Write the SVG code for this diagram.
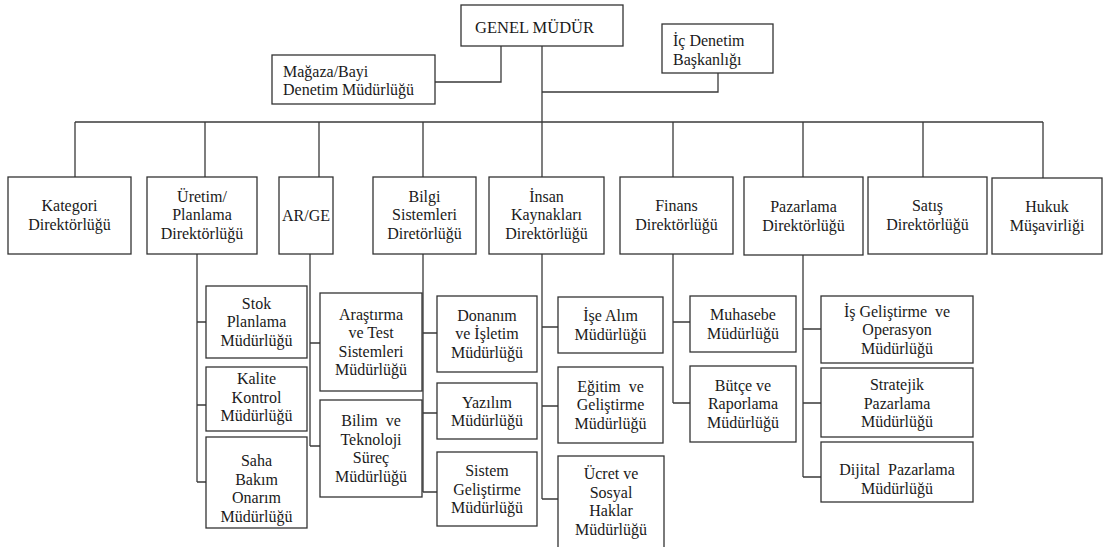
<svg xmlns="http://www.w3.org/2000/svg" width="1104" height="547" viewBox="0 0 1104 547">
<style>
rect{fill:#fff;stroke:#333;stroke-width:1.3}
.c path{fill:none;stroke:#3a3a3a;stroke-width:1.3}
text{font-size:16px;fill:#1a1a1a;text-anchor:middle}
.l{text-anchor:start}
.p{white-space:pre}
</style>
<rect x="0" y="0" width="1104" height="547" style="stroke:none"/>
<g class="c" id="connectors">
<path d="M501 46V82H435"/>
<path d="M718 73V92H542"/>
<path d="M542 46V177"/>
<path d="M75 122H1043"/>
<path d="M75 122V177M205 122V177M319 122V177M423 122V177M673 122V177M803 122V177M923 122V177M1043 122V178"/>
<path d="M197 254V482M197 322H206M197 405H206M197 482H206"/>
<path d="M310 254V446M310 343H320M310 446H320"/>
<path d="M423 254V492M423 333H437M423 413H437M423 492H437"/>
<path d="M542 254V499M542 327H558M542 406H558M542 499H558"/>
<path d="M673 254V403M673 322H690M673 403H690"/>
<path d="M803 255V477M803 329H821M803 403H821M803 477H821"/>
</g>
<g font-family="Liberation Serif, DejaVu Serif, serif">
<g id="genel"><rect x="461" y="5" width="162" height="41"/><text class="l" x="475" y="33" style="font-size:16.5px">GENEL MÜDÜR</text></g>
<g id="magaza"><rect x="272" y="55" width="163" height="49"/><text class="l" x="283" y="76.5">Mağaza/Bayi</text><text class="l" x="283" y="95">Denetim Müdürlüğü</text></g>
<g id="icdenetim"><rect x="662" y="24" width="111" height="49"/><text class="l" x="673" y="46">İç Denetim</text><text class="l" x="673" y="64.5">Başkanlığı</text></g>
<g id="kategori"><rect x="8" y="177" width="123" height="77"/><text x="69.5" y="211">Kategori</text><text x="69.5" y="230">Direktörlüğü</text></g>
<g id="uretim"><rect x="147" y="177" width="110" height="77"/><text x="202" y="201.5">Üretim/</text><text x="202" y="220">Planlama</text><text x="202" y="238.5">Direktörlüğü</text></g>
<g id="arge"><rect x="279" y="177" width="54" height="77"/><text x="306" y="220.5">AR/GE</text></g>
<g id="bilgi"><rect x="373" y="177" width="103" height="77"/><text x="424.5" y="201.5">Bilgi</text><text x="424.5" y="220">Sistemleri</text><text x="424.5" y="238.5">Diretörlüğü</text></g>
<g id="insan"><rect x="489" y="177" width="115" height="77"/><text x="546.5" y="201.5">İnsan</text><text x="546.5" y="220">Kaynakları</text><text x="546.5" y="238.5">Direktörlüğü</text></g>
<g id="finans"><rect x="620" y="177" width="113" height="77"/><text x="676.5" y="211">Finans</text><text x="676.5" y="230">Direktörlüğü</text></g>
<g id="pazarlama"><rect x="744" y="177" width="119" height="78"/><text x="803.5" y="212">Pazarlama</text><text x="803.5" y="230.5">Direktörlüğü</text></g>
<g id="satis"><rect x="868" y="177" width="119" height="77"/><text x="927.5" y="211">Satış</text><text x="927.5" y="230">Direktörlüğü</text></g>
<g id="hukuk"><rect x="992" y="178" width="110" height="76"/><text x="1047" y="212">Hukuk</text><text x="1047" y="230.5">Müşavirliği</text></g>
<g id="stok"><rect x="206" y="286" width="101" height="72"/><text x="256.5" y="308.5">Stok</text><text x="256.5" y="327">Planlama</text><text x="256.5" y="345.5">Müdürlüğü</text></g>
<g id="kalite"><rect x="206" y="367" width="101" height="64"/><text x="256.5" y="384">Kalite</text><text x="256.5" y="402.5">Kontrol</text><text x="256.5" y="421">Müdürlüğü</text></g>
<g id="saha"><rect x="206" y="437" width="101" height="91"/><text x="256.5" y="466">Saha</text><text x="256.5" y="484.5">Bakım</text><text x="256.5" y="503">Onarım</text><text x="256.5" y="521.5">Müdürlüğü</text></g>
<g id="arastirma"><rect x="320" y="293" width="102" height="98"/><text x="371" y="319.5">Araştırma</text><text x="371" y="338">ve Test</text><text x="371" y="356.5">Sistemleri</text><text x="371" y="375">Müdürlüğü</text></g>
<g id="bilim"><rect x="320" y="400" width="102" height="97"/><text class="p" x="371" y="426">Bilim  ve</text><text x="371" y="444.5">Teknoloji</text><text x="371" y="463">Süreç</text><text x="371" y="481.5">Müdürlüğü</text></g>
<g id="donanim"><rect x="437" y="296" width="100" height="76"/><text x="487" y="320.5">Donanım</text><text x="487" y="339">ve İşletim</text><text x="487" y="357.5">Müdürlüğü</text></g>
<g id="yazilim"><rect x="437" y="383" width="100" height="56"/><text x="487" y="407.5">Yazılım</text><text x="487" y="426">Müdürlüğü</text></g>
<g id="sistem"><rect x="437" y="452" width="100" height="74"/><text x="487" y="476">Sistem</text><text x="487" y="494.5">Geliştirme</text><text x="487" y="513">Müdürlüğü</text></g>
<g id="isealim"><rect x="558" y="297" width="105" height="56"/><text x="610.5" y="321">İşe Alım</text><text x="610.5" y="339.5">Müdürlüğü</text></g>
<g id="egitim"><rect x="558" y="367" width="105" height="76"/><text class="p" x="610.5" y="391.5">Eğitim  ve</text><text x="610.5" y="410">Geliştirme</text><text x="610.5" y="428.5">Müdürlüğü</text></g>
<g id="ucret"><rect x="558" y="456" width="106" height="110"/><text x="611" y="479">Ücret ve</text><text x="611" y="497.5">Sosyal</text><text x="611" y="516">Haklar</text><text x="611" y="534.5">Müdürlüğü</text></g>
<g id="muhasebe"><rect x="690" y="296" width="106" height="56"/><text x="743" y="320">Muhasebe</text><text x="743" y="338.5">Müdürlüğü</text></g>
<g id="butce"><rect x="690" y="366" width="106" height="76"/><text x="743" y="390.5">Bütçe ve</text><text x="743" y="409">Raporlama</text><text x="743" y="427.5">Müdürlüğü</text></g>
<g id="isgelistirme"><rect x="821" y="296" width="152" height="67"/><text class="p" x="897" y="316.5">İş Geliştirme  ve</text><text x="897" y="335">Operasyon</text><text x="897" y="353.5">Müdürlüğü</text></g>
<g id="stratejik"><rect x="821" y="368" width="152" height="69"/><text x="897" y="390">Stratejik</text><text x="897" y="408.5">Pazarlama</text><text x="897" y="427">Müdürlüğü</text></g>
<g id="dijital"><rect x="821" y="442" width="152" height="60"/><text class="p" x="897" y="475">Dijital  Pazarlama</text><text x="897" y="493.5">Müdürlüğü</text></g>
</g>
</svg>
